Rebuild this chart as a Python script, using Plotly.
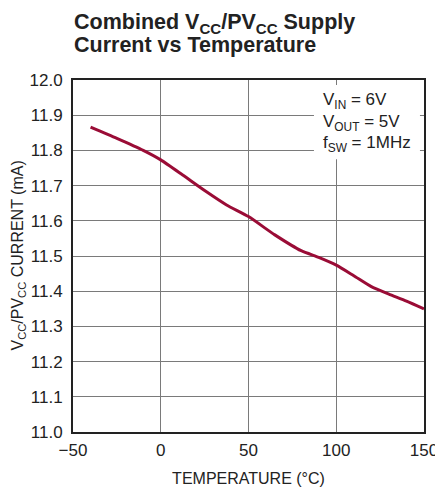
import plotly.graph_objects as go

temperature = [-40, -25, -10, 0, 12.5, 25, 37.5, 50, 65, 80, 90, 100, 110, 120, 130, 140, 150]
current_ma = [11.866, 11.834, 11.800, 11.773, 11.730, 11.686, 11.645, 11.612, 11.560,
              11.515, 11.496, 11.474, 11.444, 11.413, 11.392, 11.372, 11.350]

x_ticks = [-50, 0, 50, 100, 150]
x_tick_text = ["\u221250", "0", "50", "100", "150"]
y_ticks = [11.0, 11.1, 11.2, 11.3, 11.4, 11.5, 11.6, 11.7, 11.8, 11.9, 12.0]
y_tick_text = [f"{v:.1f}" for v in y_ticks]

FONT = "Liberation Sans, Arial, sans-serif"
TXT = "#222222"

fig = go.Figure()
fig.add_trace(go.Scatter(x=temperature, y=current_ma, mode="lines",
                         line=dict(color="#9a0c36", width=3, shape="spline", smoothing=0.6),
                         showlegend=False, hoverinfo="skip"))

axis_common = dict(showgrid=True, gridcolor="#7a7a7a", gridwidth=1.3,
                   showline=True, linecolor="#222222", linewidth=2, mirror=True,
                   ticks="", zeroline=False, automargin=False,
                   tickfont=dict(family=FONT, size=17, color=TXT))

fig.update_xaxes(range=[-50, 150], tickvals=x_ticks, ticktext=x_tick_text,
                 ticklabelstandoff=2,
                 title=dict(text="TEMPERATURE (°C)", font=dict(family=FONT, size=16, color=TXT),
                            standoff=13),
                 **axis_common)
fig.update_yaxes(range=[11.0, 12.0], tickvals=y_ticks, ticktext=y_tick_text,
                 ticklabelstandoff=5, **axis_common)

fig.add_shape(type="rect", xref="x", yref="y", x0=87.3, x1=147.7, y0=11.775, y1=11.986,
              fillcolor="white", line=dict(width=0), layer="above")

box_lines = ["V<sub>IN</sub> = 6V", "V<sub>OUT</sub> = 5V", "f<sub>SW</sub> = 1MHz"]
box_y = [11.940, 11.877, 11.819]
for txt, yy in zip(box_lines, box_y):
    fig.add_annotation(xref="x", yref="y", x=91.8, y=yy, xanchor="left", yanchor="middle",
                       showarrow=False, align="left", borderpad=0,
                       text=txt, font=dict(family=FONT, size=17, color=TXT))

# y-axis title
fig.add_annotation(xref="paper", yref="paper", x=-0.158, y=0.50, xanchor="center", yanchor="middle",
                   textangle=-90, showarrow=False,
                   text="V<sub>CC</sub>/PV<sub>CC</sub> CURRENT (mA)",
                   font=dict(family=FONT, size=16, color=TXT))

# title, two lines
TFONT = dict(family=FONT, size=21.5, color=TXT)
fig.add_annotation(xref="paper", yref="paper", x=0.0, y=1.0 + (80 - 23) / 352,
                   xanchor="left", yanchor="middle", showarrow=False, borderpad=0,
                   text="<b>Combined V<sub>CC</sub>/PV<sub>CC</sub> Supply</b>", font=TFONT)
fig.add_annotation(xref="paper", yref="paper", x=0.0, y=1.0 + (80 - 45) / 352,
                   xanchor="left", yanchor="middle", showarrow=False, borderpad=0,
                   text="<b>Current vs Temperature</b>", font=TFONT)

# page body has an 8px margin, so the figure is sized to fill the rest of the window
fig.update_layout(width=435, height=481,
                  margin=dict(l=65, r=19, t=72, b=57, autoexpand=False),
                  paper_bgcolor="white", plot_bgcolor="white")

fig.write_html("out.html")
